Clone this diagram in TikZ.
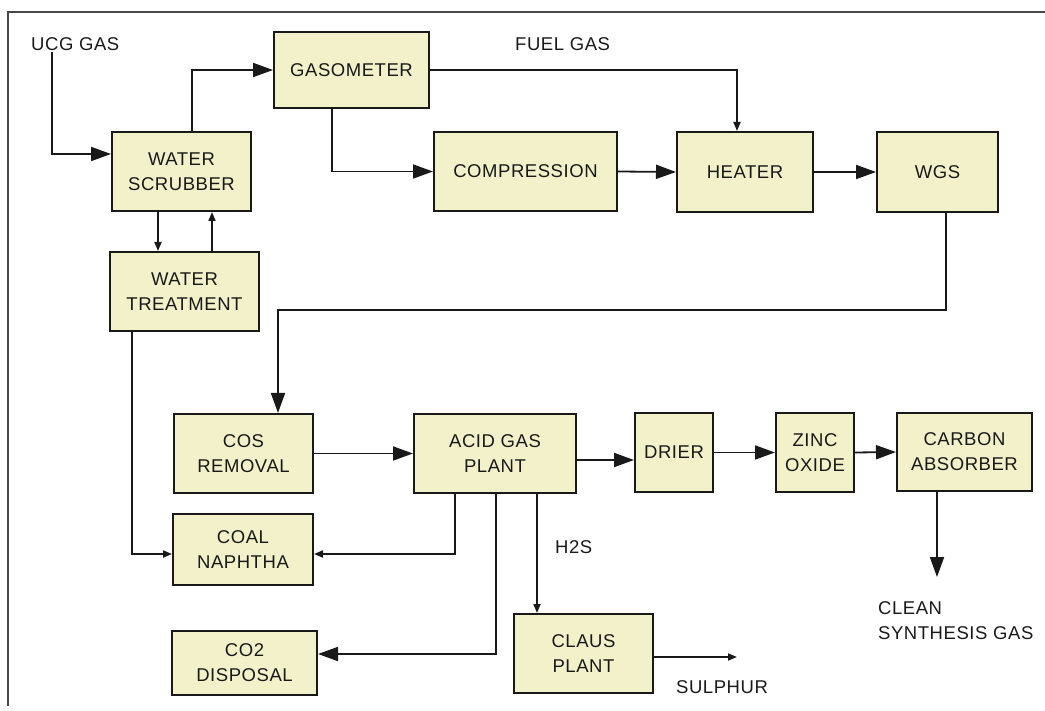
\documentclass[tikz,border=0pt]{standalone}
\usepackage{fontspec}
\setmainfont{Liberation Sans}[LetterSpace=3]
\usepackage{xcolor}
\usepackage{tikz}
\usetikzlibrary{arrows.meta,positioning}

\definecolor{boxfill}{RGB}{242,241,202}
\definecolor{inkgray}{RGB}{25,25,25}

\begin{document}
\begin{tikzpicture}[x=1pt,y=-1pt,every node/.style={font=\fontsize{18.5}{25}\selectfont,text=inkgray},
          unit/.style={draw=inkgray,fill=boxfill,line width=2pt,align=center,inner sep=0pt},
          flow/.style={draw=inkgray,line width=1.8pt},
          bigarr/.style={flow,-{Triangle[length=20pt,width=14pt]}},
          smallarr/.style={flow,-{Triangle[length=9pt,width=7pt]}},
          lbl/.style={anchor=west,inner sep=0pt,align=left}]
        \useasboundingbox (0,0) rectangle (1045,711);
        \draw[inkgray!80,line width=2.2pt] (1045,12) -- (8,12) -- (8,706);
        % process units
        \node[unit,minimum width=155,minimum height=76] (gaso) at (351.5,70) {GASOMETER};
        \node[unit,minimum width=139,minimum height=79] (scrub) at (181.5,171.5) {WATER\\SCRUBBER};
        \node[unit,minimum width=183,minimum height=79] (comp) at (525.5,171.5) {COMPRESSION};
        \node[unit,minimum width=136,minimum height=80] (heat) at (745,172) {HEATER};
        \node[unit,minimum width=121,minimum height=80] (wgs) at (937.5,172) {WGS};
        \node[unit,minimum width=149,minimum height=79] (treat) at (184.5,291.5) {WATER\\TREATMENT};
        \node[unit,minimum width=139,minimum height=79] (cos) at (243.5,453.5) {COS\\REMOVAL};
        \node[unit,minimum width=162,minimum height=79] (acid) at (495,453.5) {ACID GAS\\PLANT};
        \node[unit,minimum width=78,minimum height=79] (drier) at (674,452.5) {DRIER};
        \node[unit,minimum width=78,minimum height=79] (zinc) at (815,452.5) {ZINC\\OXIDE};
        \node[unit,minimum width=135,minimum height=78] (carb) at (964.5,452) {CARBON\\ABSORBER};
        \node[unit,minimum width=140,minimum height=71] (naph) at (243,549.5) {COAL\\NAPHTHA};
        \node[unit,minimum width=145,minimum height=64] (co2) at (244.5,663) {CO2\\DISPOSAL};
        \node[unit,minimum width=139,minimum height=79] (claus) at (583.5,653.5) {CLAUS\\PLANT};
        % stream labels
        \node[lbl] (ucglbl) at (31,44) {UCG GAS};
        \node[lbl] (fuellbl) at (515,44) {FUEL GAS};
        \node[lbl] (h2slbl) at (555,547) {H2S};
        \node[lbl] (sulphlbl) at (676,687) {SULPHUR};
        \node[lbl] (cleanlbl) at (878,621) {CLEAN\\SYNTHESIS GAS};
        \coordinate (ucg) at (52,52);
        \coordinate (wgsdrop) at (946,310);
        \coordinate (sulphend) at (737,657);
        \coordinate (cleanend) at (937,577);
        % gas line
        \draw[bigarr] (ucg) |- (scrub.west |- 0,154);
        \draw[bigarr] (scrub.north -| 192,0) |- (gaso.west);
        \draw[bigarr] (gaso.south -| 332,0) |- (comp.west);
        \draw[smallarr] (gaso.east) -| (heat.north -| 737,0);
        \draw[bigarr] (comp.east) -- (heat.west);
        \draw[bigarr] (heat.east) -- (wgs.west);
        \draw[smallarr] (scrub.south -| 158,0) -- (treat.north -| 158,0);
        \draw[smallarr] (treat.north -| 212,0) -- (scrub.south -| 212,0);
        \draw[bigarr] (wgs.south -| wgsdrop) -- (wgsdrop) -| (cos.north -| 278,0);
        \draw[bigarr] (cos.east) -- (acid.west);
        \draw[smallarr] (treat.south -| 132,0) |- (naph.west |- 0,554);
        \draw[smallarr] (acid.south -| 455,0) |- (naph.east |- 0,554);
        \draw[bigarr] (acid.south -| 496,0) |- (co2.east |- 0,654);
        \draw[smallarr] (acid.south -| 537,0) -- (claus.north -| 537,0);
        \draw[smallarr] (claus.east |- sulphend) -- (sulphend);
        \draw[bigarr] (acid.east |- 0,460) -- (drier.west |- 0,460);
        \draw[bigarr] (drier.east) -- (zinc.west);
        \draw[bigarr] (zinc.east) -- (carb.west);
        \draw[bigarr] (carb.south -| cleanend) -- (cleanend);
      \end{tikzpicture}
\end{document}
